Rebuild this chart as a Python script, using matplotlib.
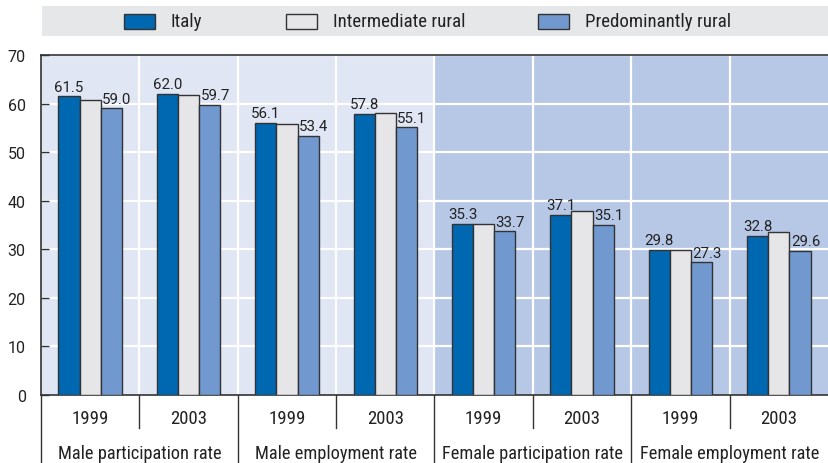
import matplotlib
matplotlib.use("Agg")
import matplotlib.pyplot as plt
from matplotlib.patches import Rectangle
from matplotlib.lines import Line2D
import numpy as np

plt.rcParams['font.family'] = ['Roboto Condensed', 'DejaVu Sans']
NUMFONT = ['Roboto', 'DejaVu Sans']

categories = ["Male participation rate", "Male employment rate",
              "Female participation rate", "Female employment rate"]
years = ["1999", "2003"]
series_names = ["Italy", "Intermediate rural", "Predominantly rural"]
italy = [61.5, 62.0, 56.1, 57.8, 35.3, 37.1, 29.8, 32.8]
intermediate = [60.7, 61.8, 55.8, 58.0, 35.3, 37.9, 29.9, 33.5]
predominant = [59.0, 59.7, 53.4, 55.1, 33.7, 35.1, 27.3, 29.6]
yticks = [0, 10, 20, 30, 40, 50, 60, 70]

colors = ["#0067B1", "#E6E6E8", "#7199D0"]
edge = "#333333"
txt = "#222222"
W, H = 829, 464
fig = plt.figure(figsize=(W / 100, H / 100), dpi=100)

L, R, B, T = 41, 828, 396, 56
ax = fig.add_axes([L / W, 1 - B / H, (R - L) / W, (B - T) / H])

n = len(italy)
x = np.arange(n)
ax.set_xlim(-0.5, n - 0.5)
ax.set_ylim(0, 70)
# backgrounds
ax.axvspan(-0.5, 3.5, color="#E0E6F4", zorder=0)
ax.axvspan(3.5, n - 0.5, color="#B7C8E7", zorder=0)
for yv in yticks[1:]:
    ax.axhline(yv, color="white", lw=1.6, zorder=1)
for xv in np.arange(0.5, n - 0.5, 1):
    ax.axvline(xv, color="white", lw=1.6, zorder=1)

bw = 0.215
data = [italy, intermediate, predominant]
bars = []
for i, (vals, c) in enumerate(zip(data, colors)):
    b = ax.bar(x + (i - 1) * bw, vals, bw, color=c, edgecolor=edge, lw=1.0, zorder=3)
    bars.append(b)

for rect, v in zip(bars[0], italy):
    ax.annotate(f"{v:.1f}", (rect.get_x() + rect.get_width() / 2, v), xytext=(0, 2),
                textcoords="offset points", ha="center", va="bottom", fontsize=10.8,
                color=txt, family=NUMFONT)
for rect, v in zip(bars[2], predominant):
    ax.annotate(f"{v:.1f}", (rect.get_x() + rect.get_width() / 2, v), xytext=(4, 2),
                textcoords="offset points", ha="center", va="bottom", fontsize=10.8,
                color=txt, family=NUMFONT)

ax.set_yticks(yticks)
ax.set_yticklabels([str(t) for t in yticks], fontsize=11.5, color=txt, family=NUMFONT)
ax.tick_params(axis="y", direction="in", length=6, width=1, color="#333333", pad=11)
ax.set_xticks([])
for s in ["left", "top", "bottom"]:
    ax.spines[s].set_color("#333333")
    ax.spines[s].set_linewidth(1.2)
ax.spines["right"].set_visible(False)

# year labels and category labels below axis
trans = ax.get_xaxis_transform()
for i in range(n):
    ax.text(x[i], -(419 - B) / (B - T), years[i % 2], transform=trans,
            ha="center", va="center", fontsize=13.5, color=txt)
for j, cat in enumerate(categories):
    ax.text(2 * j + 0.5, -(454 - B) / (B - T), cat, transform=trans,
            ha="center", va="center", fontsize=13.2, color=txt)
# separators
for i in range(n):
    xv = i - 0.5
    y2 = -(H - B) / (B - T) if i % 2 == 0 else -(429 - B) / (B - T)
    ax.add_line(Line2D([xv, xv], [0, y2], transform=trans, color="#333333", lw=1.0, clip_on=False))

# legend box
fig.add_artist(Rectangle((42 / W, 1 - 37 / H), (W - 42) / W, 30 / H, transform=fig.transFigure,
                         facecolor="#E6E7E8", edgecolor="none", zorder=0))
leg_x = [124, 286, 538]
for lx, name, c in zip(leg_x, series_names, colors):
    fig.add_artist(Rectangle((lx / W, 1 - 30 / H), 31 / W, 15 / H, transform=fig.transFigure,
                             facecolor=c, edgecolor=edge, lw=1.0))
    fig.text((lx + 47) / W, 1 - 22 / H, name, ha="left", va="center", fontsize=13.6, color=txt)

fig.savefig("out.png", dpi=100)
